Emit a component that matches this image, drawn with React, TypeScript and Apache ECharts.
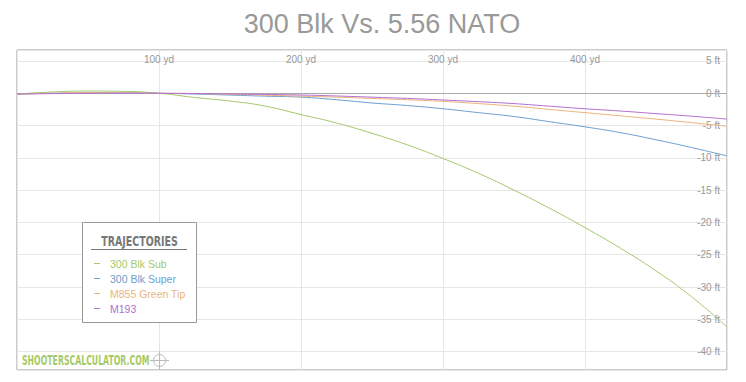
import React, { useEffect, useRef } from "react";
import * as echarts from "echarts";

const titleText = "300 Blk Vs. 5.56 NATO";
const ranges = [0, 25, 50, 75, 100, 125, 150, 175, 200, 225, 250, 275, 300, 325, 350, 375, 400, 425, 450, 475, 500];
const seriesNames = ["300 Blk Sub", "300 Blk Super", "M855 Green Tip", "M193"];
const seriesColors = ["#a5c96a", "#6c9fcf", "#ebb47c", "#b36ed2"];
const blkSub = [-0.12, 0.2, 0.35, 0.3, 0, -0.65, -1.2, -2.0, -3.3, -4.6, -6.2, -8.0, -10.1, -12.4, -15.0, -17.8, -20.8, -24.0, -27.5, -31.5, -36.2];
const blkSuper = [-0.12, 0.0, 0.05, 0.05, 0, -0.12, -0.28, -0.45, -0.6, -1.0, -1.5, -1.9, -2.4, -3.0, -3.6, -4.4, -5.2, -6.1, -7.2, -8.4, -9.7];
const m855 = [-0.12, 0.0, 0.1, 0.08, 0, -0.05, -0.15, -0.3, -0.45, -0.6, -0.8, -1.0, -1.25, -1.6, -2.0, -2.5, -3.0, -3.5, -4.0, -4.55, -5.1];
const m193 = [-0.12, -0.05, 0.0, 0.02, 0, -0.03, -0.1, -0.18, -0.27, -0.42, -0.6, -0.8, -1.04, -1.3, -1.6, -2.0, -2.4, -2.75, -3.15, -3.55, -4.0];
const seriesValues = [blkSub, blkSuper, m855, m193];
const legendTitle = "TRAJECTORIES";
const watermark = "SHOOTERSCALCULATOR.COM";

export default function App() {
  const ref = useRef<HTMLDivElement>(null);
  useEffect(() => {
    if (!ref.current) return;
    const chart = echarts.init(ref.current, null, { renderer: "svg" });
    const font = "'Liberation Sans', Arial, sans-serif";
    const series: any[] = seriesNames.map((name, i) => ({
      name,
      type: "line",
      data: ranges.map((r, j) => [r, seriesValues[i][j]]),
      smooth: true,
      showSymbol: false,
      symbol: "none",
      lineStyle: { color: seriesColors[i], width: 1 },
      itemStyle: { color: seriesColors[i] },
      z: 3,
    }));
    series[0].markLine = {
      silent: true,
      symbol: "none",
      label: { show: false },
      lineStyle: { color: "#aaa", type: "solid", width: 1 },
      data: [{ yAxis: 0 }],
      z: 2,
    };
    chart.setOption({
      animation: false,
      title: {
        text: titleText,
        left: 377,
        textAlign: "center",
        top: 5,
        textStyle: { fontSize: 27, fontWeight: "normal", color: "#999", fontFamily: font },
      },
      grid: {
        left: 17,
        top: 50,
        width: 710,
        height: 320,
        show: true,
        borderColor: "#999",
        borderWidth: 1,
        containLabel: false,
      },
      xAxis: {
        type: "value",
        position: "top",
        min: 0,
        max: 500,
        interval: 100,
        axisLine: { show: false },
        axisTick: { show: false },
        axisLabel: {
          inside: true,
          margin: 4,
          formatter: "{value} yd",
          color: "#999",
          fontSize: 10,
          fontFamily: font,
          showMinLabel: false,
          showMaxLabel: false,
        },
        splitLine: { lineStyle: { color: "#e6e6e6", width: 1 } },
      },
      yAxis: {
        type: "value",
        position: "right",
        min: -42.85,
        max: 6.7,
        splitNumber: 10,
        axisLine: { show: false },
        axisTick: { show: false },
        axisLabel: {
          inside: true,
          margin: 7,
          formatter: "{value} ft",
          color: "#999",
          fontSize: 10,
          fontFamily: font,
          showMinLabel: false,
          showMaxLabel: false,
        },
        splitLine: { lineStyle: { color: "#e6e6e6", width: 1 } },
      },
      legend: {
        orient: "vertical",
        left: 94,
        top: 256,
        padding: 0,
        itemGap: 0,
        icon: "rect",
        itemWidth: 6,
        itemHeight: 1,
        z: 20,
        data: seriesNames.map((name, i) => ({
          name,
          textStyle: { color: seriesColors[i] },
        })),
        textStyle: { fontSize: 10.5, fontFamily: font, lineHeight: 15, padding: [0, 0, 0, 5] },
      },
      graphic: [
        {
          type: "rect",
          shape: { x: 82.5, y: 222.5, width: 114, height: 100 },
          style: { fill: "#fff", stroke: "#999", lineWidth: 1 },
          z: 10,
        },
        {
          type: "text",
          x: 139.5,
          y: 241.5,
          scaleX: 0.78,
          z: 11,
          style: {
            text: legendTitle,
            fill: "#777",
            font: "bold 13.5px 'DejaVu Sans Condensed', 'DejaVu Sans', sans-serif",
            textAlign: "center",
            textVerticalAlign: "middle",
          },
        },
        {
          type: "line",
          shape: { x1: 91, y1: 249.5, x2: 187, y2: 249.5 },
          style: { stroke: "#777", lineWidth: 1 },
          z: 11,
        },
        {
          type: "text",
          x: 22,
          y: 360,
          scaleX: 0.64,
          z: 11,
          style: {
            text: watermark,
            fill: "#a6ca68",
            font: "bold 13.5px 'DejaVu Sans Condensed', 'DejaVu Sans', sans-serif",
            textAlign: "left",
            textVerticalAlign: "middle",
          },
        },
        {
          type: "circle",
          shape: { cx: 159.5, cy: 360.5, r: 6 },
          style: { fill: "none", stroke: "#bbb", lineWidth: 1 },
          z: 11,
        },
        {
          type: "line",
          shape: { x1: 150, y1: 360.5, x2: 169, y2: 360.5 },
          style: { stroke: "#bbb", lineWidth: 1 },
          z: 11,
        },
        {
          type: "line",
          shape: { x1: 159.5, y1: 351, x2: 159.5, y2: 370 },
          style: { stroke: "#bbb", lineWidth: 1 },
          z: 11,
        },
      ],
      series,
    });
    return () => chart.dispose();
  }, []);
  return (
    <div
      ref={ref}
      style={{ position: "fixed", left: 0, top: 0, width: 746, height: 382, background: "#fff" }}
    />
  );
}
